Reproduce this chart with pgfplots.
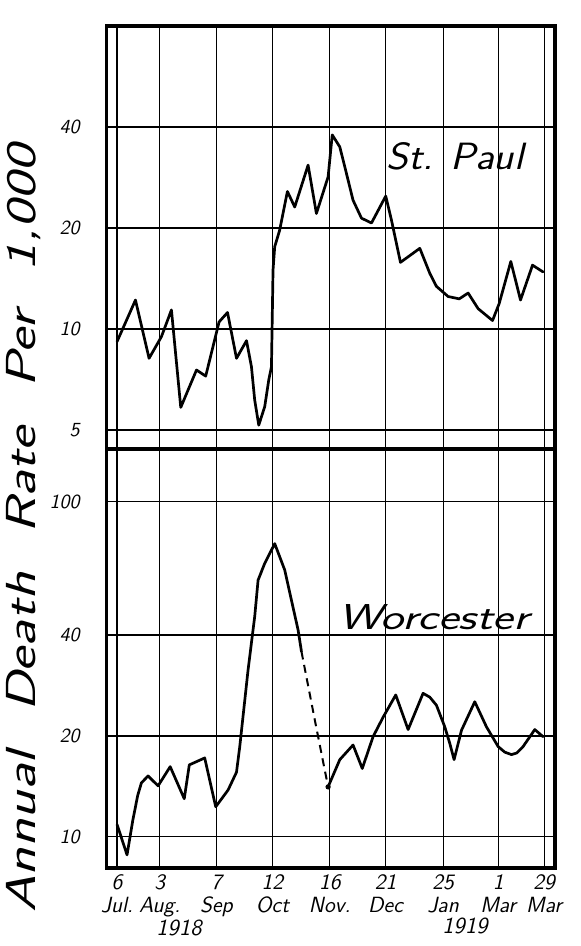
\documentclass[border=0pt]{standalone}
\usepackage{fontspec}
\usepackage{graphicx}
\usepackage{pgfplots}
\pgfplotsset{compat=1.18}
\begin{document}
\begin{tikzpicture}
\path[use as bounding box] (-53.35pt,13pt) rectangle (236.65pt,-460pt);
\begin{axis}[at={(0pt,0pt)}, anchor=north west,
  scale only axis, width=224.15pt, height=211.5pt,
  ymode=log, xmin=-0.92, xmax=38.97, ymin=4.39, ymax=80,
  xtick={0,3.8,8.85,13.83,18.93,23.89,29.01,33.91,38}, xticklabels={},
  ytick={5,10,20,40}, yticklabels={5,10,20,40},
  grid=major, major grid style={black, line width=0.55pt},
  axis line style={line width=1.6pt},
  major tick length=0pt, minor tick length=0pt,
  yticklabel style={font=\sffamily\slshape\fontsize{10}{11}\selectfont, xshift=-10pt},
  clip=false]
\addplot[black, line width=1.35pt, line join=round, line cap=round, no markers] coordinates {
(0,9.17) (1.64,12.2) (2.85,8.18) (3.95,9.49) (4.84,11.4) (5.67,5.84)
(7.07,7.55) (7.89,7.24) (9.08,10.5) (9.83,11.2) (10.63,8.18) (11.52,9.23)
(11.96,7.72) (12.25,6.14) (12.61,5.17) (13.14,5.87) (13.5,7.05) (13.74,7.72)
(13.88,15.0) (14.03,17.6) (14.47,19.7) (15.16,25.7) (15.81,23.1) (17.0,30.8)
(17.74,22.1) (18.78,28.4) (19.15,37.9) (19.82,34.9) (20.26,30.5) (21.0,24.2)
(21.75,21.4) (22.64,20.7) (23.91,24.9) (24.42,21.1) (25.22,15.8) (26.94,17.4)
(27.83,14.65) (28.42,13.4) (29.46,12.5) (30.45,12.3) (31.24,12.8) (32.13,11.5)
(33.41,10.6) (34.0,11.9) (35.04,15.9) (35.9,12.2) (36.97,15.5) (37.9,14.8)
};
\end{axis}
\begin{axis}[at={(0pt,-211.5pt)}, anchor=north west,
  scale only axis, width=224.15pt, height=209.5pt,
  ymode=log, xmin=-0.92, xmax=38.97, ymin=8.08, ymax=143.4,
  xtick={0,3.8,8.85,13.83,18.93,23.89,29.01,33.91,38},
  xticklabels={6\\Jul.,3\\Aug.,7\\Sep,12\\Oct,16\\Nov.,21\\Dec,25\\Jan,1\\Mar,29\\Mar},
  xticklabel style={align=center, font=\sffamily\slshape\fontsize{11}{11.5}\selectfont},
  ytick={10,20,40,100}, yticklabels={10,20,40,100},
  grid=major, major grid style={black, line width=0.55pt},
  axis line style={line width=1.6pt},
  major tick length=0pt, minor tick length=0pt,
  yticklabel style={font=\sffamily\slshape\fontsize{10}{11}\selectfont, xshift=-10pt},
  clip=false]
\addplot[black, line width=1.35pt, line join=round, line cap=round, no markers] coordinates {
(0,10.9) (0.89,8.84) (1.40,11.2) (1.84,13.3) (2.17,14.5) (2.76,15.2)
(3.65,14.2) (4.73,16.2) (5.98,13.0) (6.43,16.4) (7.80,17.2) (8.78,12.3)
(9.88,13.8) (10.63,15.6) (10.92,18.6) (11.66,31.5) (12.25,45.4) (12.55,58.3)
(13.14,65.4) (14.03,74.9) (14.92,62.5) (15.45,52.0) (16.11,41.4) (16.41,35.7)
};
\addplot[black, line width=1.0pt, dash pattern=on 4pt off 2.8pt, no markers] coordinates {
(16.41,35.7) (17.6,22.3) (18.78,14.1)
};
\addplot[black, line width=1.35pt, line join=round, line cap=round, no markers] coordinates {
(18.78,14.1) (19.82,17.0) (21.0,18.8) (21.82,16.0) (22.78,19.9) (23.69,22.8)
(24.80,26.5) (25.90,20.9) (27.23,26.8) (27.83,26.1) (28.42,24.7) (29.16,21.3)
(29.61,19.0) (29.99,17.0) (30.65,20.8) (31.83,25.3) (32.87,21.3) (33.91,18.6)
(34.5,17.9) (35.1,17.6) (35.57,17.8) (36.13,18.6) (37.17,20.9) (37.91,19.9)
};
\addplot[black, only marks, mark=*, mark size=1.1pt] coordinates {(18.78,14.1)};
\end{axis}
\node[font=\sffamily\slshape\fontsize{19}{19}\selectfont] at (174.15pt,-65pt) {\scalebox{1.1}[1]{St. Paul}};
\node[font=\sffamily\slshape\fontsize{18}{18}\selectfont] at (163.5pt,-295.5pt) {\scalebox{1.36}[1]{Worcester}};
\node[font=\sffamily\slshape\fontsize{11.5}{12}\selectfont] at (36.15pt,-451pt) {1918};
\node[font=\sffamily\slshape\fontsize{11.5}{12}\selectfont] at (179.15pt,-450pt) {1919};
\node[rotate=90, font=\sffamily\slshape\fontsize{21}{21}\selectfont] at (-41.35pt,-251.5pt) {\scalebox{1.4}[1]{Annual\hspace{14pt}Death\hspace{14pt}Rate\hspace{14pt}Per\hspace{14pt}1,000}};
\end{tikzpicture}
\end{document}
